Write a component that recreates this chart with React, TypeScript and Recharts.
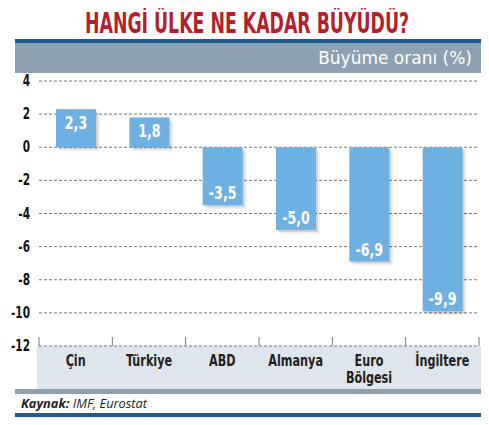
import React from "react";
import {
  BarChart,
  Bar,
  XAxis,
  YAxis,
  CartesianGrid,
  LabelList,
} from "recharts";

const categories = ["Çin", "Türkiye", "ABD", "Almanya", "Euro\nBölgesi", "İngiltere"];
const growth = [2.3, 1.8, -3.5, -5.0, -6.9, -9.9];
const yTicks = [4, 2, 0, -2, -4, -6, -8, -10, -12];

const W = 489;
const H = 425;
const PLOT_LEFT = 39;
const PLOT_RIGHT = 479;
const PLOT_TOP = 81;
const PLOT_BOTTOM = 346;

const NARROW = "'Liberation Sans Narrow', 'DejaVu Sans Condensed', 'DejaVu Sans', sans-serif";
const SQUEEZE = 0.78;

const data = categories.map((c, i) => ({ name: c, value: growth[i] }));

const fmt = (v: number) => v.toFixed(1).replace(".", ",");

// condensed bold text: no narrow font installed, so squeeze horizontally
function Narrow({ x, y, size, fill, anchor = "middle", children }: any) {
  return (
    <g transform={`translate(${x},${y}) scale(${SQUEEZE},1)`}>
      <text x={0} y={0} textAnchor={anchor} fill={fill} fontFamily={NARROW} fontWeight="bold" fontSize={size}>
        {children}
      </text>
    </g>
  );
}

function BarShape(props: any) {
  const { x, y, width, height } = props;
  const top = Math.min(y, y + height);
  const h = Math.abs(height);
  return (
    <g>
      <rect x={x + 4} y={top + 4} width={width} height={h} fill="#000" fillOpacity={0.06} />
      <rect x={x + 2} y={top + 2} width={width} height={h} fill="#000" fillOpacity={0.12} />
      <rect x={x} y={top} width={width} height={h} fill="#6fb0e2" />
    </g>
  );
}

function ValueLabel(props: any) {
  const { x, y, width, height, value } = props;
  const top = Math.min(y, y + height);
  const bottom = Math.max(y, y + height);
  const cy = value >= 0 ? top + 14 : bottom - 12;
  return (
    <Narrow x={x + width / 2} y={cy + 6} size={18} fill="#fff">
      {fmt(value)}
    </Narrow>
  );
}

function XTick(props: any) {
  const { x, payload, index } = props;
  const bw = (PLOT_RIGHT - PLOT_LEFT) / categories.length;
  const lines = String(payload.value).split("\n");
  const left = x - bw / 2;
  const right = x + bw / 2;
  return (
    <g>
      <line x1={left} x2={left} y1={PLOT_BOTTOM} y2={PLOT_BOTTOM - 9} stroke="#777" />
      {index === categories.length - 1 && (
        <line x1={right} x2={right} y1={PLOT_BOTTOM} y2={PLOT_BOTTOM - 9} stroke="#777" />
      )}
      {lines.map((l, i) => (
        <Narrow key={i} x={x} y={PLOT_BOTTOM + 20 + i * 17} size={16} fill="#222">
          {l}
        </Narrow>
      ))}
    </g>
  );
}

function YTick(props: any) {
  const { x, y, payload } = props;
  return (
    <Narrow x={x - 1} y={y + 5} size={15} fill="#111" anchor="end">
      {payload.value}
    </Narrow>
  );
}

export default function App() {
  return (
    <div style={{ position: "relative", width: W, height: H, margin: -8, background: "#fff" }}>
      <svg width={W} height={H} style={{ position: "absolute", left: 0, top: 0 }}>
        <text
          x={247}
          y={33}
          textAnchor="middle"
          fill="#b31f2c"
          fontFamily={NARROW}
          fontWeight="bold"
          fontSize={28}
          textLength={324}
          lengthAdjust="spacingAndGlyphs"
        >
          HANGİ ÜLKE NE KADAR BÜYÜDÜ?
        </text>
        <rect x={15} y={39} width={467} height={4} fill="#1f5b8c" />
        <rect x={15} y={43} width={467} height={30} fill="#8ca1b2" />
        <text
          x={472}
          y={64}
          textAnchor="end"
          fill="#fff"
          fontFamily="'DejaVu Sans', sans-serif"
          fontSize={17}
        >
          Büyüme oranı (%)
        </text>
        <rect x={37} y={PLOT_BOTTOM} width={445} height={43} fill="#dfe5ec" />
        <rect x={15} y={389} width={467} height={5} fill="#8e9fad" />
        <text
          x={21}
          y={408}
          fill="#222"
          fontFamily="'Open Sans', 'DejaVu Sans', sans-serif"
          fontStyle="italic"
          fontSize={13}
          textLength={126}
          lengthAdjust="spacingAndGlyphs"
        >
          <tspan fontWeight="bold">Kaynak:</tspan> IMF, Eurostat
        </text>
        <rect x={15} y={413} width={467} height={4} fill="#1f5b8c" />
      </svg>
      <div style={{ position: "absolute", left: 0, top: 0 }}>
        <BarChart
          width={W}
          height={H}
          data={data}
          margin={{ top: PLOT_TOP, right: W - PLOT_RIGHT, left: 0, bottom: 0 }}
        >
          <CartesianGrid vertical={false} stroke="#777" strokeDasharray="3 2" />
          <XAxis
            dataKey="name"
            axisLine={false}
            tickLine={false}
            height={H - PLOT_BOTTOM}
            tick={<XTick />}
            interval={0}
          />
          <YAxis
            width={PLOT_LEFT}
            domain={[-12, 4]}
            ticks={yTicks}
            axisLine={false}
            tickLine={false}
            tick={<YTick />}
            interval={0}
          />
          <Bar dataKey="value" barSize={40} shape={<BarShape />} isAnimationActive={false}>
            <LabelList dataKey="value" content={<ValueLabel />} />
          </Bar>
        </BarChart>
      </div>
    </div>
  );
}
